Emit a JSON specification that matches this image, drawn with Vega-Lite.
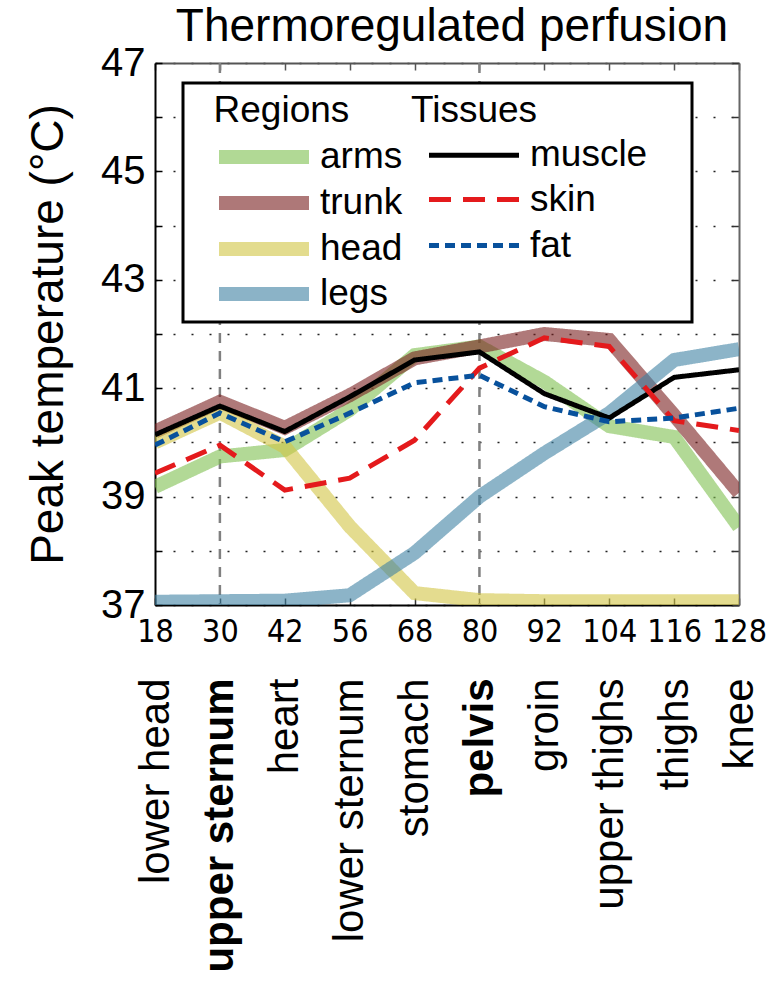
{
  "$schema": "https://vega.github.io/schema/vega-lite/v6.json",
  "autosize": {"type": "none"},
  "padding": {"left": 155, "top": 63, "right": 27, "bottom": 376},
  "width": 584,
  "height": 542,
  "title": {"text": "Thermoregulated perfusion", "fontSize": 46, "fontWeight": "normal", "color": "black", "anchor": "middle", "offset": -8, "dx": 5},
  "config": {
    "font": "Liberation Sans",
    "view": {"stroke": null},
    "legend": {
      "orient": "none", "legendX": 28, "legendY": 20, "columns": 2,
      "fillColor": "white", "strokeColor": "black", "strokeWidth": 3, "padding": 10,
      "titleFontSize": 37, "titleFontWeight": "normal", "titleColor": "black",
      "labelFontSize": 37, "labelColor": "black", "symbolSize": 900, "symbolType": "M-3,0H3",
      "symbolOffset": 49, "labelOffset": 34, "rowPadding": 5, "columnPadding": -12, "titlePadding": 5,
      "labelLimit": 400, "titleLimit": 700
    }
  },
  "datasets": {
    "vals": [
      {"series": "arms", "kind": "region", "depth": 18, "temp": 39.18},
      {"series": "arms", "kind": "region", "depth": 30, "temp": 39.74},
      {"series": "arms", "kind": "region", "depth": 42, "temp": 39.86},
      {"series": "arms", "kind": "region", "depth": 56, "temp": 40.6},
      {"series": "arms", "kind": "region", "depth": 68, "temp": 41.61},
      {"series": "arms", "kind": "region", "depth": 80, "temp": 41.77},
      {"series": "arms", "kind": "region", "depth": 92, "temp": 41.12},
      {"series": "arms", "kind": "region", "depth": 104, "temp": 40.3},
      {"series": "arms", "kind": "region", "depth": 116, "temp": 40.1},
      {"series": "arms", "kind": "region", "depth": 128, "temp": 38.44},
      {"series": "trunk", "kind": "region", "depth": 18, "temp": 40.2},
      {"series": "trunk", "kind": "region", "depth": 30, "temp": 40.75},
      {"series": "trunk", "kind": "region", "depth": 42, "temp": 40.27},
      {"series": "trunk", "kind": "region", "depth": 56, "temp": 40.87},
      {"series": "trunk", "kind": "region", "depth": 68, "temp": 41.55},
      {"series": "trunk", "kind": "region", "depth": 80, "temp": 41.77},
      {"series": "trunk", "kind": "region", "depth": 92, "temp": 42.0},
      {"series": "trunk", "kind": "region", "depth": 104, "temp": 41.89},
      {"series": "trunk", "kind": "region", "depth": 116, "temp": 40.5},
      {"series": "trunk", "kind": "region", "depth": 128, "temp": 39.07},
      {"series": "head", "kind": "region", "depth": 18, "temp": 40.0},
      {"series": "head", "kind": "region", "depth": 30, "temp": 40.55},
      {"series": "head", "kind": "region", "depth": 42, "temp": 39.92},
      {"series": "head", "kind": "region", "depth": 56, "temp": 38.45},
      {"series": "head", "kind": "region", "depth": 68, "temp": 37.22},
      {"series": "head", "kind": "region", "depth": 80, "temp": 37.09},
      {"series": "head", "kind": "region", "depth": 92, "temp": 37.07},
      {"series": "head", "kind": "region", "depth": 104, "temp": 37.07},
      {"series": "head", "kind": "region", "depth": 116, "temp": 37.07},
      {"series": "head", "kind": "region", "depth": 128, "temp": 37.07},
      {"series": "legs", "kind": "region", "depth": 18, "temp": 37.06},
      {"series": "legs", "kind": "region", "depth": 30, "temp": 37.07},
      {"series": "legs", "kind": "region", "depth": 42, "temp": 37.08},
      {"series": "legs", "kind": "region", "depth": 56, "temp": 37.18},
      {"series": "legs", "kind": "region", "depth": 68, "temp": 37.96},
      {"series": "legs", "kind": "region", "depth": 80, "temp": 39.0},
      {"series": "legs", "kind": "region", "depth": 92, "temp": 39.8},
      {"series": "legs", "kind": "region", "depth": 104, "temp": 40.54},
      {"series": "legs", "kind": "region", "depth": 116, "temp": 41.52},
      {"series": "legs", "kind": "region", "depth": 128, "temp": 41.72},
      {"series": "muscle", "kind": "tissue", "depth": 18, "temp": 40.14},
      {"series": "muscle", "kind": "tissue", "depth": 30, "temp": 40.67},
      {"series": "muscle", "kind": "tissue", "depth": 42, "temp": 40.2},
      {"series": "muscle", "kind": "tissue", "depth": 56, "temp": 40.84},
      {"series": "muscle", "kind": "tissue", "depth": 68, "temp": 41.52},
      {"series": "muscle", "kind": "tissue", "depth": 80, "temp": 41.67},
      {"series": "muscle", "kind": "tissue", "depth": 92, "temp": 40.9},
      {"series": "muscle", "kind": "tissue", "depth": 104, "temp": 40.45},
      {"series": "muscle", "kind": "tissue", "depth": 116, "temp": 41.2},
      {"series": "muscle", "kind": "tissue", "depth": 128, "temp": 41.34},
      {"series": "skin", "kind": "tissue", "depth": 18, "temp": 39.43},
      {"series": "skin", "kind": "tissue", "depth": 30, "temp": 39.95},
      {"series": "skin", "kind": "tissue", "depth": 42, "temp": 39.12},
      {"series": "skin", "kind": "tissue", "depth": 56, "temp": 39.34},
      {"series": "skin", "kind": "tissue", "depth": 68, "temp": 40.04},
      {"series": "skin", "kind": "tissue", "depth": 80, "temp": 41.37},
      {"series": "skin", "kind": "tissue", "depth": 92, "temp": 41.93},
      {"series": "skin", "kind": "tissue", "depth": 104, "temp": 41.77},
      {"series": "skin", "kind": "tissue", "depth": 116, "temp": 40.4},
      {"series": "skin", "kind": "tissue", "depth": 128, "temp": 40.22},
      {"series": "fat", "kind": "tissue", "depth": 18, "temp": 39.95},
      {"series": "fat", "kind": "tissue", "depth": 30, "temp": 40.54},
      {"series": "fat", "kind": "tissue", "depth": 42, "temp": 40.01},
      {"series": "fat", "kind": "tissue", "depth": 56, "temp": 40.54},
      {"series": "fat", "kind": "tissue", "depth": 68, "temp": 41.1},
      {"series": "fat", "kind": "tissue", "depth": 80, "temp": 41.24},
      {"series": "fat", "kind": "tissue", "depth": 92, "temp": 40.66},
      {"series": "fat", "kind": "tissue", "depth": 104, "temp": 40.38},
      {"series": "fat", "kind": "tissue", "depth": 116, "temp": 40.45},
      {"series": "fat", "kind": "tissue", "depth": 128, "temp": 40.63}
    ],
    "marks": [{"depth": 30}, {"depth": 80}]
  },
  "resolve": {"axis": {"x": "independent", "y": "independent"}},
  "layer": [
    {
      "data": {"name": "marks"},
      "mark": {"type": "rule", "color": "#808080", "strokeWidth": 2.5, "strokeDash": [10, 8]},
      "encoding": {
        "x": {"field": "depth", "type": "ordinal", "scale": {"type": "point", "padding": 0},
          "axis": {"orient": "top", "labels": false, "title": null, "grid": false, "tickSize": -7, "tickColor": "#555", "tickWidth": 1.5, "domainColor": "#555", "domainWidth": 2}}
      }
    },
    {
      "data": {"name": "vals"},
      "transform": [{"filter": "datum.kind == 'region'"}],
      "mark": {"type": "line", "clip": true, "strokeCap": "butt", "strokeJoin": "miter"},
      "encoding": {
        "x": {"field": "depth", "type": "ordinal", "scale": {"type": "point", "padding": 0},
          "axis": {"orient": "bottom", "title": null, "labelAngle": 0, "labelFont": "DejaVu Sans Condensed, Liberation Sans", "labelFontSize": 32, "labelColor": "black", "labelPadding": 18, "tickSize": -7, "tickColor": "#333", "tickWidth": 1.5, "domainColor": "black", "domainWidth": 2, "grid": false, "labelOverlap": false}},
        "y": {"field": "temp", "type": "quantitative", "scale": {"domain": [37, 47], "nice": false, "zero": false},
          "axis": {"orient": "left", "values": [37, 38, 39, 40, 41, 42, 43, 44, 45, 46, 47], "labelExpr": "datum.value % 2 == 1 ? datum.label : ''",
            "labelFontSize": 40, "labelColor": "black", "labelPadding": 17, "tickSize": -7, "tickColor": "black", "tickWidth": 1.5,
            "domainColor": "black", "domainWidth": 2, "grid": true, "gridDash": [2, 16], "gridColor": "#222", "gridWidth": 1.5,
            "title": "Peak temperature (°C)", "titleFontSize": 46, "titleFontWeight": "normal", "titleColor": "black", "titlePadding": 28}},
        "color": {"field": "series", "type": "nominal",
          "scale": {"domain": ["arms", "trunk", "head", "legs", "muscle", "skin", "fat"], "range": ["#7ec050", "#7a2020", "#d2c544", "#3f82a3", "#000000", "#e41a1c", "#08519c"]},
          "legend": {"title": "\u200b\u00a0\u00a0Regions\u00a0\u00a0\u00a0\u00a0\u00a0\u00a0Tissues\u00a0\u00a0\u00a0\u00a0\u00a0\u00a0\u00a0\u00a0\u00a0\u00a0\u00a0\u00a0\u00a0\u00a0\u200b", "symbolType": "M-3,0H3", "symbolSize": 900,
            "encode": {"symbols": {"update": {"strokeJoin": {"value": "bevel"}}}}}},
        "strokeWidth": {"field": "series", "type": "nominal", "scale": {"type": "ordinal", "domain": ["arms", "trunk", "head", "legs", "muscle", "skin", "fat"], "range": [14, 14, 14, 14, 5, 5, 5]}},
        "strokeDash": {"field": "series", "type": "nominal", "scale": {"domain": ["arms", "trunk", "head", "legs", "muscle", "skin", "fat"], "range": [[1, 0], [1, 0], [1, 0], [1, 0], [1, 0], [22, 12], [10, 6]]}},
        "opacity": {"field": "series", "type": "nominal", "scale": {"type": "ordinal", "domain": ["arms", "trunk", "head", "legs", "muscle", "skin", "fat"], "range": [0.6, 0.6, 0.6, 0.6, 1, 1, 1]}}
      }
    },
    {
      "data": {"name": "vals"},
      "transform": [{"filter": "datum.kind == 'tissue'"}],
      "mark": {"type": "line", "clip": true, "strokeCap": "butt", "strokeJoin": "miter"},
      "encoding": {
        "x": {"field": "depth", "type": "ordinal", "scale": {"type": "point", "padding": 0},
          "axis": {"orient": "bottom", "title": null, "labelAngle": -90, "labelAlign": "right", "labelBaseline": "middle", "labelFontSize": 42, "labelColor": "black", "labelLimit": 400,
            "labelExpr": "['lower head','upper sternum','heart','lower sternum','stomach','pelvis','groin','upper thighs','thighs','knee'][indexof([18,30,42,56,68,80,92,104,116,128], datum.value)]",
            "labelFontWeight": {"condition": {"test": "datum.value == 30 || datum.value == 80", "value": "bold"}, "value": "normal"},
            "labelPadding": 73, "labelOverlap": false, "ticks": false, "domain": false, "grid": false}},
        "y": {"field": "temp", "type": "quantitative", "scale": {"domain": [37, 47], "nice": false, "zero": false},
          "axis": {"orient": "right", "values": [37, 38, 39, 40, 41, 42, 43, 44, 45, 46, 47], "labels": false, "title": null, "grid": false, "tickSize": -7, "tickColor": "#333", "tickWidth": 1.5, "domainColor": "#666", "domainWidth": 2}},
        "color": {"field": "series", "type": "nominal",
          "scale": {"domain": ["arms", "trunk", "head", "legs", "muscle", "skin", "fat"], "range": ["#7ec050", "#7a2020", "#d2c544", "#3f82a3", "#000000", "#e41a1c", "#08519c"]},
          "legend": {"title": "\u200b\u00a0\u00a0Regions\u00a0\u00a0\u00a0\u00a0\u00a0\u00a0Tissues\u00a0\u00a0\u00a0\u00a0\u00a0\u00a0\u00a0\u00a0\u00a0\u00a0\u00a0\u00a0\u00a0\u00a0\u200b", "symbolType": "M-3,0H3", "symbolSize": 900,
            "encode": {"symbols": {"update": {"strokeJoin": {"value": "bevel"}}}}}},
        "strokeWidth": {"field": "series", "type": "nominal", "scale": {"type": "ordinal", "domain": ["arms", "trunk", "head", "legs", "muscle", "skin", "fat"], "range": [14, 14, 14, 14, 5, 5, 5]}},
        "strokeDash": {"field": "series", "type": "nominal", "scale": {"domain": ["arms", "trunk", "head", "legs", "muscle", "skin", "fat"], "range": [[1, 0], [1, 0], [1, 0], [1, 0], [1, 0], [22, 12], [10, 6]]}},
        "opacity": {"field": "series", "type": "nominal", "scale": {"type": "ordinal", "domain": ["arms", "trunk", "head", "legs", "muscle", "skin", "fat"], "range": [0.6, 0.6, 0.6, 0.6, 1, 1, 1]}}
      }
    }
  ]
}
